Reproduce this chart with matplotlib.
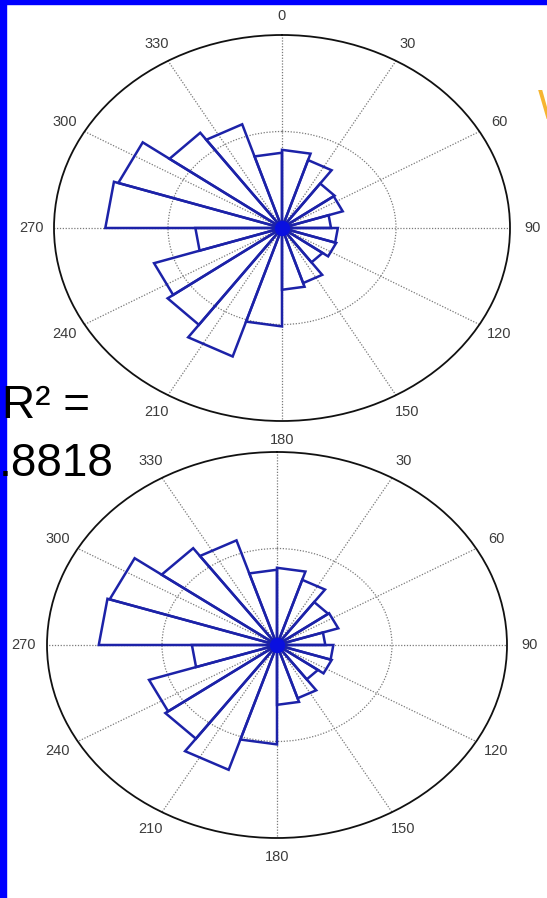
import matplotlib.pyplot as plt
import numpy as np
from matplotlib.patches import Rectangle

# rose histogram: 20 bins of 18 degrees, compass orientation
BIN_EDGES_DEG = np.arange(0, 361, 18)
TOP_COUNTS = [8.1, 7.4, 5.7, 5.6, 4.3, 4.9, 5.0, 4.4, 6.0, 6.4,
              10.2, 14.0, 12.4, 11.8, 7.6, 15.5, 15.1, 12.2, 11.3, 7.8]
BOTTOM_COUNTS = [8.0, 7.1, 5.5, 5.6, 4.2, 4.9, 5.0, 4.4, 5.8, 6.2,
                 10.3, 13.6, 12.0, 11.7, 7.4, 15.5, 15.3, 12.4, 11.4, 7.8]
RMAX = 20
RINGS = [10]
LABEL_ANGLES = np.arange(0, 360, 30)
ANGLE_LABELS = [str(a) for a in LABEL_ANGLES]
R2_LINES = ["R² =", ".8818"]

WEDGE_COLOR = "#1c22a8"
GRID_COLOR = "#7a7a7a"
LABEL_COLOR = "#3c3c3c"
BORDER_BLUE = "#0000ff"
TITLE_YELLOW = "#f6b530"

W, H = 547, 898


def rose(ax, counts, skip_labels=()):
    ax.set_theta_zero_location("N")
    ax.set_theta_direction(-1)
    ax.set_facecolor("none")
    edges = np.deg2rad(BIN_EDGES_DEG)
    for i, c in enumerate(counts):
        ax.plot([0, edges[i], edges[i + 1], 0], [0, c, c, 0],
                color=WEDGE_COLOR, lw=1.8, solid_joinstyle="miter", zorder=3)
    ax.plot([0], [0], "o", ms=10, color="#0a10e0", zorder=4)
    ax.set_ylim(0, RMAX)
    ax.set_rgrids(RINGS, labels=[""] * len(RINGS))
    ax.set_thetagrids(LABEL_ANGLES, labels=[""] * len(LABEL_ANGLES))
    ax.grid(True, color=GRID_COLOR, linestyle=(0, (1, 1.3)), lw=0.9)
    ax.tick_params(length=0)
    ax.spines["polar"].set_color("#111111")
    ax.spines["polar"].set_linewidth(1.3)
    for a, lab in zip(LABEL_ANGLES, ANGLE_LABELS):
        if lab in skip_labels:
            continue
        ax.text(np.deg2rad(a), 1.1 * RMAX, lab, ha="center", va="center",
                fontsize=10.5, color=LABEL_COLOR, family="Liberation Sans",
                clip_on=False)
    ax.set_aspect("auto")


def box(cx, cy, sx, sy):
    return [(cx - sx) / W, (H - cy - sy) / H, 2 * sx / W, 2 * sy / H]


def main():
    fig = plt.figure(figsize=(W / 100, H / 100), dpi=100)
    fig.patch.set_facecolor("white")

    fig.add_artist(Rectangle((0, 0), 6 / W, 1, transform=fig.transFigure,
                             color=BORDER_BLUE, zorder=1))
    fig.add_artist(Rectangle((0, 1 - 4 / H), 1, 4 / H, transform=fig.transFigure,
                             color=BORDER_BLUE, zorder=1))

    ax_bot = fig.add_axes(box(277, 645, 230, 193), projection="polar")
    rose(ax_bot, BOTTOM_COUNTS, skip_labels=("0",))
    ax_top = fig.add_axes(box(282, 228, 228, 193), projection="polar")
    rose(ax_top, TOP_COUNTS)

    fig.text(2 / W, 1 - 418 / H, R2_LINES[0], fontsize=33, family="Liberation Sans",
             color="black", ha="left", va="baseline", zorder=10)
    fig.text(-1 / W, 1 - 476 / H, R2_LINES[1], fontsize=33, family="Liberation Sans",
             color="black", ha="left", va="baseline", zorder=10)
    # edge of the slide title, cut off by the screenshot
    fig.text(538 / W, 1 - 88 / H, "W", fontsize=30, family="Liberation Sans",
             color=TITLE_YELLOW, ha="left", va="top", zorder=10)

    fig.savefig("out.png", dpi=100)
    plt.close(fig)


if __name__ == "__main__":
    main()
